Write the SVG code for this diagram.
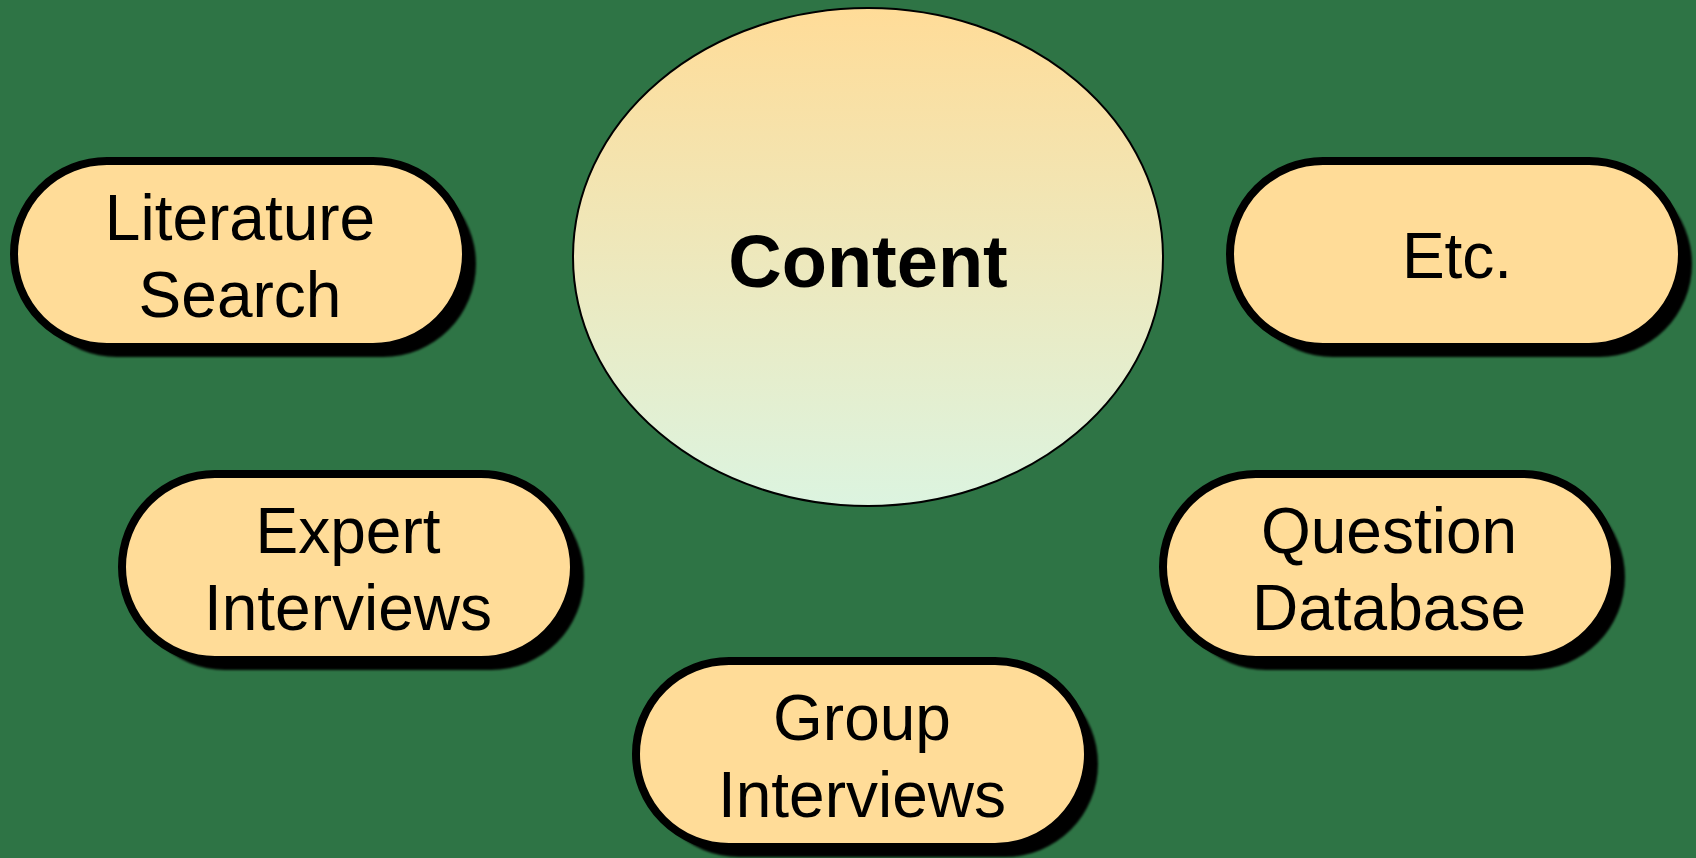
<svg xmlns="http://www.w3.org/2000/svg" width="1696" height="858" viewBox="0 0 1696 858">
<defs>
<linearGradient id="cg" x1="0" y1="0" x2="0" y2="1">
<stop offset="0" stop-color="#FFDC98"/>
<stop offset="1" stop-color="#DCF4E0"/>
</linearGradient>
<filter id="blur" x="-10%" y="-10%" width="120%" height="120%"><feGaussianBlur stdDeviation="1.2"/></filter>
<style>
.shadow{fill:#000;filter:url(#blur)}
.pill{fill:#FFDC98;stroke:#000;stroke-width:8}
.lbl{font-family:"Liberation Sans",Arial,sans-serif;font-size:64px;fill:#000;text-anchor:middle}
.big{font-family:"Liberation Sans",Arial,sans-serif;font-size:74px;font-weight:bold;fill:#000;text-anchor:middle}
</style>
</defs>
<rect width="1696" height="858" fill="#2E7445"/>
<g id="connectors"/>
<g id="content">
<ellipse cx="868" cy="257" rx="295" ry="249" fill="url(#cg)" stroke="#000" stroke-width="2"/>
<text class="big" x="868" y="287">Content</text>
</g>
<g id="literature-search">
<rect class="shadow" x="24" y="171" width="452" height="186" rx="93"/>
<rect class="pill" x="14" y="161" width="452" height="186" rx="93"/>
<text class="lbl" x="240" y="240">Literature</text>
<text class="lbl" x="240" y="317">Search</text>
</g>
<g id="etc">
<rect class="shadow" x="1240" y="171" width="452" height="186" rx="93"/>
<rect class="pill" x="1230" y="161" width="452" height="186" rx="93"/>
<text class="lbl" x="1457" y="278">Etc.</text>
</g>
<g id="expert-interviews">
<rect class="shadow" x="132" y="484" width="452" height="186" rx="93"/>
<rect class="pill" x="122" y="474" width="452" height="186" rx="93"/>
<text class="lbl" x="348" y="553">Expert</text>
<text class="lbl" x="348" y="630">Interviews</text>
</g>
<g id="question-database">
<rect class="shadow" x="1173" y="484" width="452" height="186" rx="93"/>
<rect class="pill" x="1163" y="474" width="452" height="186" rx="93"/>
<text class="lbl" x="1389" y="553">Question</text>
<text class="lbl" x="1389" y="630">Database</text>
</g>
<g id="group-interviews">
<rect class="shadow" x="646" y="671" width="452" height="186" rx="93"/>
<rect class="pill" x="636" y="661" width="452" height="186" rx="93"/>
<text class="lbl" x="862" y="740">Group</text>
<text class="lbl" x="862" y="817">Interviews</text>
</g>
</svg>
